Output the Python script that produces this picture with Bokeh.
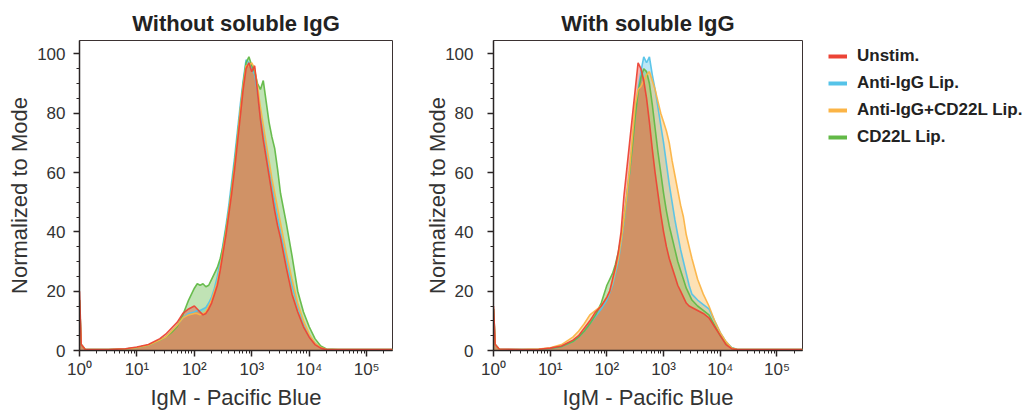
from bokeh.plotting import figure
from bokeh.layouts import row
from bokeh.models import FixedTicker, Legend, LegendItem, Range1d
from bokeh.embed import file_html
from bokeh.resources import INLINE

# ---- data: fluorescence grid (log10 of IgM - Pacific Blue) ----
EXP = [0, 0.03, 0.1, 0.5, 0.8, 1.0, 1.2, 1.4, 1.5, 1.6, 1.7, 1.8, 1.9,
       2.0, 2.05, 2.1, 2.15, 2.2, 2.25, 2.3, 2.35, 2.4, 2.45, 2.5, 2.55, 2.6, 2.65, 2.7, 2.75,
       2.8, 2.85, 2.9, 2.95, 3.0, 3.05, 3.1, 3.15, 3.2, 3.25, 3.3, 3.35, 3.4, 3.45, 3.5,
       3.6, 3.7, 3.8, 3.9, 4.0, 4.1, 4.2, 4.3, 4.5, 5.45]

SERIES = ["Unstim.", "Anti-IgG Lip.", "Anti-IgG+CD22L Lip.", "CD22L Lip."]

# Without soluble IgG
L_UNSTIM = [20, 2, 0.3, 0.3, 0.6, 1.2, 2, 4, 5.5, 7.5, 9.5, 12.5, 14,
            15, 14, 13, 12, 12.5, 14, 16, 19, 22, 27, 33, 39, 46, 53, 61, 70, 79, 88, 95, 97,
            94, 96, 87, 78, 71, 65, 59, 53, 47, 42, 38,
            28, 19, 13, 8, 4.5, 2, 0.8, 0.3, 0.3, 0.3]
L_ANTI = [17, 2, 0.3, 0.3, 0.5, 1, 1.8, 3.5, 4.5, 6.5, 8.5, 11, 12.5,
          13, 13.5, 13.5, 14, 14.5, 16, 18, 21, 25, 30, 36, 42, 49, 57, 65, 74, 83, 91, 98, 97,
          95, 93, 87, 80, 74, 68, 62, 56, 50, 45, 40,
          31, 22, 15, 9, 5, 2.5, 1, 0.3, 0.3, 0.3]
L_ANTI_CD22L = [17, 2, 0.3, 0.3, 0.5, 1, 1.8, 3.5, 4.5, 6.5, 8.5, 11, 12,
                12.5, 12.5, 12, 12.5, 13, 15, 17, 20, 23, 28, 34, 40, 47, 54, 62, 71, 81, 89, 96, 96,
                97, 95, 89, 82, 76, 70, 64, 58, 53, 48, 43,
                33, 24, 16, 10, 5.5, 2.5, 1, 0.3, 0.3, 0.3]
L_CD22L = [17, 2, 0.3, 0.3, 0.5, 1, 1.8, 3.5, 4.5, 6, 8, 12, 17,
           21, 22.5, 22, 22.5, 21.5, 22, 24, 26, 28, 31, 35, 41, 47, 55, 63, 72, 81, 90, 97, 99,
           96, 94, 90, 88, 91, 84, 77, 72, 68, 61, 53,
           43, 32, 20, 13, 8, 4, 1.5, 0.5, 0.3, 0.3]

# With soluble IgG
R_UNSTIM = [15, 2, 0.5, 0.3, 0.4, 0.8, 1.5, 3.5, 5, 7.5, 10, 13, 15,
            18, 20, 24, 28, 33, 40, 52, 61, 70, 79, 88, 97, 95, 91, 85, 77, 68, 60, 53, 46,
            40, 35, 31, 28, 25, 22, 20, 18, 16, 15, 14.5,
            13.5, 12.5, 11, 8, 5, 2, 0.6, 0.3, 0.3, 0.3]
R_ANTI = [14, 2, 0.4, 0.3, 0.4, 0.7, 1.3, 3, 4.5, 6.5, 9, 11.5, 14,
          17, 19.5, 22, 26, 30, 36, 43, 51, 60, 70, 80, 88, 94, 99, 97, 99, 93, 88, 82, 76,
          70, 63, 56, 50, 44, 39, 34, 30, 26, 22, 19,
          17, 15.5, 14, 10, 6, 3, 1, 0.3, 0.3, 0.3]
R_ANTI_CD22L = [14, 2, 0.4, 0.3, 0.5, 0.9, 2, 4.5, 6.5, 9, 12, 13.5, 15,
                18, 20, 23, 27, 31, 37, 44, 52, 61, 72, 83, 88, 89, 91, 93, 94, 91, 88, 84, 80,
                77, 74, 70, 64, 59, 54, 49, 45, 39, 35, 31,
                24, 19, 15, 10, 6, 3, 0.8, 0.3, 0.3, 0.3]
R_CD22L = [14, 2, 0.4, 0.3, 0.4, 0.7, 1.3, 3, 4.5, 6.5, 9, 12, 16,
           22, 24, 26, 29, 33, 38, 44, 52, 60, 69, 79, 87, 92, 95, 94, 90, 83, 75, 67, 60,
           53, 47, 42, 38, 34, 30, 27, 24, 21, 19, 17,
           15, 13.5, 12, 8.5, 5, 2.5, 0.8, 0.3, 0.3, 0.3]

X_TICKS = [1, 10, 100, 1000, 10000, 100000]
X_TICK_LABELS = ["10\u2070", "10\u00b9", "10\u00b2", "10\u00b3", "10\u2074", "10\u2075"]
Y_TICKS = [0, 20, 40, 60, 80, 100]

COLORS = {"Unstim.": "#ec4436", "Anti-IgG Lip.": "#55c3e8",
          "Anti-IgG+CD22L Lip.": "#fbb446", "CD22L Lip.": "#62b947"}
DRAW_ORDER = ["Anti-IgG Lip.", "CD22L Lip.", "Anti-IgG+CD22L Lip.", "Unstim."]

FONT = "Liberation Sans"
TXT = "#333333"
H = 412

xs = [10 ** e for e in EXP]
minor_x = [k * 10 ** d for d in range(0, 6) for k in range(2, 10)]
minor_y = [v for v in range(0, 105, 5) if v % 20 != 0]


def panel(title, data, width, bl, br, tick_standoff, label_standoff):
    p = figure(width=width, height=H, x_axis_type="log",
               x_range=Range1d(1, 10 ** 5.45), y_range=Range1d(0, 104.5),
               output_backend="svg", toolbar_location=None,
               min_border_left=bl, min_border_right=br,
               min_border_top=40, min_border_bottom=62, title=title)
    p.title.text_font = FONT
    p.title.text_font_style = "bold"
    p.title.text_font_size = "22px"
    p.title.text_color = "#222222"
    p.title.align = "center"
    p.title.standoff = 10
    p.grid.visible = False
    p.outline_line_color = "#3b3232"
    p.outline_line_width = 1
    p.background_fill_color = "white"
    p.border_fill_color = "white"

    for name in DRAW_ORDER:
        p.varea(x=xs, y1=[0] * len(xs), y2=data[name], fill_color=COLORS[name],
                fill_alpha=0.4)
    for name in DRAW_ORDER:
        p.line(x=xs, y=data[name], line_color=COLORS[name], line_width=1.6,
               line_alpha=0.95)

    xa = p.xaxis[0]
    xa.ticker = FixedTicker(ticks=X_TICKS, minor_ticks=minor_x)
    xa.major_label_overrides = {t: l for t, l in zip(X_TICKS, X_TICK_LABELS)}
    ya = p.yaxis[0]
    ya.ticker = FixedTicker(ticks=Y_TICKS, minor_ticks=minor_y)
    xa.axis_label = "IgM - Pacific Blue"
    ya.axis_label = "Normalized to Mode"
    for ax in (xa, ya):
        ax.axis_line_color = "#2a2424"
        ax.axis_line_width = 1.5
        ax.major_tick_line_color = "#2a2424"
        ax.minor_tick_line_color = "#2a2424"
        ax.major_tick_line_width = 1.5
        ax.major_tick_in = 0
        ax.major_tick_out = 6
        ax.minor_tick_in = 0
        ax.minor_tick_out = 3
        ax.major_label_text_font = FONT
        ax.major_label_text_font_size = "17px"
        ax.major_label_text_color = TXT
        ax.axis_label_text_font = FONT
        ax.axis_label_text_font_size = "22px"
        ax.axis_label_text_font_style = "normal"
        ax.axis_label_text_color = TXT
    xa.major_label_standoff = 3
    xa.axis_label_standoff = 3
    ya.major_label_standoff = tick_standoff
    ya.axis_label_standoff = label_standoff
    return p


left_data = {"Unstim.": L_UNSTIM, "Anti-IgG Lip.": L_ANTI,
             "Anti-IgG+CD22L Lip.": L_ANTI_CD22L, "CD22L Lip.": L_CD22L}
right_data = {"Unstim.": R_UNSTIM, "Anti-IgG Lip.": R_ANTI,
              "Anti-IgG+CD22L Lip.": R_ANTI_CD22L, "CD22L Lip.": R_CD22L}

p1 = panel("Without soluble IgG", left_data, 408, 79, 16, 8, 2)
p2 = panel("With soluble IgG", right_data, 402, 85, 8, 14, -8)

# legend panel
p3 = figure(width=222, height=H, x_range=Range1d(0, 1), y_range=Range1d(0, 1),
            output_backend="svg", toolbar_location=None,
            min_border_left=0, min_border_right=0, min_border_top=0, min_border_bottom=0)
p3.axis.visible = False
p3.grid.visible = False
p3.outline_line_color = None
p3.background_fill_color = "white"
p3.border_fill_color = "white"
items = []
for name in SERIES:
    r = p3.line(x=[-1, -0.5], y=[-1, -1], line_color=COLORS[name], line_width=4)
    items.append(LegendItem(label=name, renderers=[r]))
legend = Legend(items=items, location=(18, 203), orientation="vertical",
                glyph_width=19, glyph_height=20, label_height=20, spacing=7,
                label_standoff=10, padding=0, margin=0,
                border_line_color=None, background_fill_alpha=0,
                label_text_font=FONT, label_text_font_style="bold",
                label_text_font_size="17px", label_text_color="#222222")
p3.add_layout(legend, "center")

layout = row(p1, p2, p3)
open("out.html", "w").write(file_html(layout, INLINE))
